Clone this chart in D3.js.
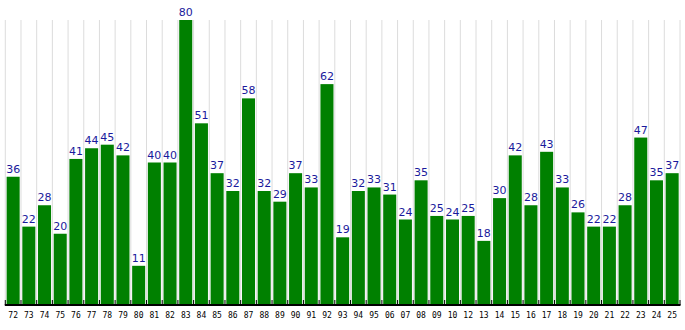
<!DOCTYPE html>
<html>
<head>
<meta charset="utf-8">
<script src="https://cdn.jsdelivr.net/npm/d3@7"></script>
<style>
  html, body { margin: 0; padding: 0; background: #fff; }
  svg { display: block; }
</style>
</head>
<body>
<svg id="chart" width="685" height="330"></svg>
<script>
// Year labels along the bottom axis
const years = ["72","73","74","75","76","77","78","79","80","81","82","83","84","85","86","87","88","89","90","91","92","93","94","95","06","07","08","09","10","12","13","14","15","16","17","18","19","20","21","22","23","24","25"];
// Value per year
const counts = [36,22,28,20,41,44,45,42,11,40,40,80,51,37,32,58,32,29,37,33,62,19,32,33,31,24,35,25,24,25,18,30,42,28,43,33,26,22,22,28,47,35,37];
const yMax = 80;

(function () {
  const svg = d3.select("#chart");
  const plotLeft = 5.3, plotRight = 680, plotTop = 20, plotBottom = 305;

  const x = d3.scaleBand().domain(years).range([plotLeft, plotRight]).paddingInner(0.17).paddingOuter(0.085);
  const y = d3.scaleLinear().domain([0, yMax]).range([plotBottom, plotTop]);

  const bounds = d3.range(years.length + 1).map(i => plotLeft + i * (plotRight - plotLeft) / years.length);

  // vertical separators between bars
  svg.append("g").selectAll("line").data(bounds).join("line")
    .attr("x1", d => d).attr("x2", d => d)
    .attr("y1", plotTop).attr("y2", plotBottom)
    .attr("stroke", "#dcdcdc").attr("stroke-width", 1);

  // bars
  svg.append("g").selectAll("rect").data(counts).join("rect")
    .attr("x", (d, i) => x(years[i]))
    .attr("width", x.bandwidth())
    .attr("y", d => y(d))
    .attr("height", d => plotBottom - y(d))
    .attr("fill", "#008000");

  // value labels
  svg.append("g").selectAll("text").data(counts).join("text")
    .attr("x", (d, i) => x(years[i]) + x.bandwidth() / 2)
    .attr("y", d => y(d) - 4)
    .attr("text-anchor", "middle")
    .attr("font-family", "DejaVu Sans, sans-serif")
    .attr("font-size", 11)
    .attr("fill", "#1a1a9c")
    .text(d => d);

  // x axis with ticks at band boundaries
  const axis = svg.append("g");
  axis.append("line")
    .attr("x1", plotLeft - 0.5).attr("x2", plotRight + 0.5)
    .attr("y1", plotBottom).attr("y2", plotBottom)
    .attr("stroke", "#000").attr("stroke-width", 2);
  axis.selectAll("line.tick").data(bounds).join("line")
    .attr("class", "tick")
    .attr("x1", d => d).attr("x2", d => d)
    .attr("y1", plotBottom - 5).attr("y2", plotBottom)
    .attr("stroke", "#000").attr("stroke-width", 1);
  axis.selectAll("text").data(years).join("text")
    .attr("x", d => x(d) + x.bandwidth() / 2)
    .attr("y", 318)
    .attr("text-anchor", "middle")
    .attr("font-family", "DejaVu Sans Mono, monospace")
    .attr("font-size", 8)
    .attr("fill", "#000")
    .text(d => d);
})();
</script>
</body>
</html>
